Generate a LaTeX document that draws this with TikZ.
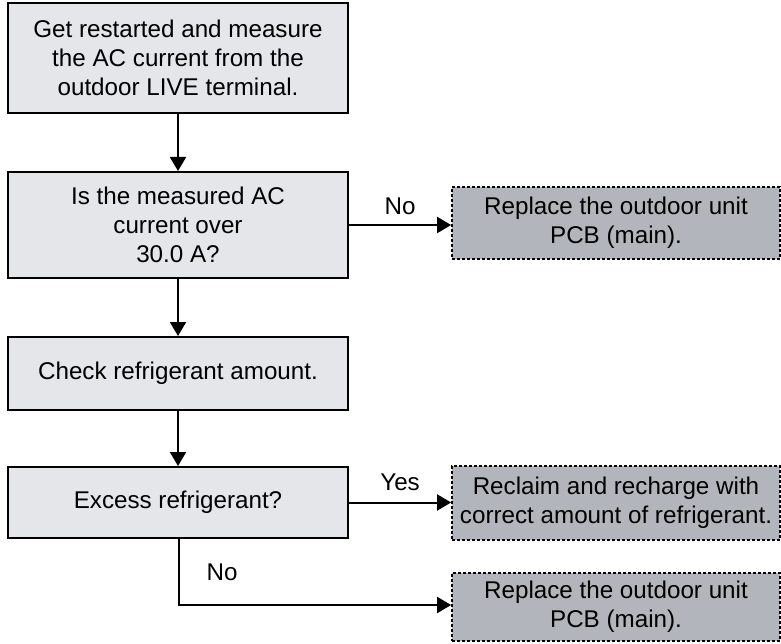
\documentclass[tikz,border=0pt]{standalone}
\usepackage{fontspec}
\setmainfont{Liberation Sans}
\usetikzlibrary{arrows.meta}
\definecolor{boxgray}{RGB}{229,230,233}
\definecolor{actgray}{RGB}{178,181,187}
\begin{document}
\begin{tikzpicture}[x=1pt,y=-1pt,
  every node/.style={font=\fontsize{24.2}{29}\selectfont,align=center,inner sep=0pt},
  stepbox/.style={draw,line width=2pt,fill=boxgray,minimum width=340pt},
  actbox/.style={draw,line width=1.8pt,dash pattern=on 3pt off 2pt,fill=actgray,minimum width=328pt},
  link/.style={line width=2pt,-{Triangle[length=14pt,width=16pt]}}]
  \useasboundingbox (0,0) rectangle (781,644);
  % main column
  \node[stepbox,minimum height=110pt] (measure) at (178,58) {Get restarted and measure\\the AC current from the\\outdoor LIVE terminal.};
  \node[stepbox,minimum height=106pt] (over) at (178,225) {Is the measured AC\\current over\\30.0 A?};
  \node[stepbox,minimum height=73pt] (check) at (178,373.5) {Check refrigerant amount.};
  \node[stepbox,minimum height=71pt] (excess) at (178,502.5) {Excess refrigerant?};
  % actions on the right
  \node[actbox,minimum height=72pt] (pcbA) at (616,223) {Replace the outdoor unit\\PCB (main).};
  \node[actbox,minimum height=74pt] (reclaim) at (616,503) {Reclaim and recharge with\\correct amount of refrigerant.};
  \node[actbox,minimum height=68pt] (pcbB) at (616,607) {Replace the outdoor unit\\PCB (main).};
  \coordinate (bend) at (179,605);
  % connectors
  \draw[link] (measure) -- (over);
  \draw[link] (over) -- (check);
  \draw[link] (check) -- (excess);
  \draw[link] (over.east) -- (pcbA.west |- over.east) node[pos=0.5,above=9pt] {No};
  \draw[link] (excess.east) -- (reclaim.west |- excess.east) node[pos=0.5,above=11pt] {Yes};
  \draw[link] (excess.south -| bend) -- (bend) -- (pcbB.west |- bend);
  \node (no) at (222,572) {No};
\end{tikzpicture}
\end{document}
